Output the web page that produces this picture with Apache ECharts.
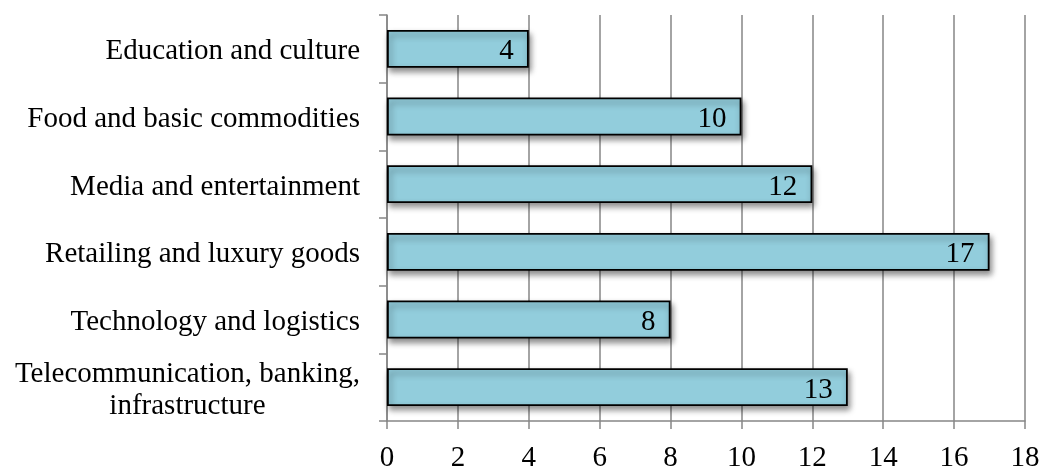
<!DOCTYPE html>
<html>
<head>
<meta charset="utf-8">
<script src="https://cdn.jsdelivr.net/npm/echarts@6/dist/echarts.min.js"></script>
<style>html,body{margin:0;padding:0;background:#fff;}#c{width:1046px;height:469px;}</style>
</head>
<body>
<div id="c"></div>
<script>
const categories = [
  "Education and culture",
  "Food and basic commodities",
  "Media and entertainment",
  "Retailing and luxury goods",
  "Technology and logistics",
  "Telecommunication, banking,\ninfrastructure"
];
const values = [4, 10, 12, 17, 8, 13];
const xTicks = [0, 2, 4, 6, 8, 10, 12, 14, 16, 18];

const chart = echarts.init(document.getElementById('c'), null, {renderer: 'canvas'});
const font = '"Liberation Serif", "Times New Roman", serif';
chart.setOption({
  animation: false,
  grid: {left: 387, right: 21, top: 15, bottom: 48, containLabel: false, outerBoundsMode: 'none'},
  xAxis: {
    type: 'value', min: xTicks[0], max: xTicks[xTicks.length - 1], interval: 2,
    axisLine: {show: true, lineStyle: {color: '#868686', width: 1.5}},
    axisTick: {show: true, length: 8, lineStyle: {color: '#868686', width: 1.5}},
    splitLine: {show: true, lineStyle: {color: '#868686', width: 1.5}},
    axisLabel: {color: '#000', fontFamily: font, fontSize: 29, margin: 23}
  },
  yAxis: {
    type: 'category', data: categories, inverse: true,
    axisLine: {show: true, lineStyle: {color: '#868686', width: 1.5}},
    axisTick: {show: true, length: 8, alignWithLabel: false, lineStyle: {color: '#868686', width: 1.5}},
    axisLabel: {
      color: '#000', fontFamily: font, fontSize: 29, margin: 27, lineHeight: 32,
      padding: [6, 0, 0, 0],
      formatter: function (v) {
        return v.split('\n').map(function (s) { return '{c|' + s + '}'; }).join('\n');
      },
      rich: {c: {align: 'center', fontFamily: font, fontSize: 29, color: '#000', lineHeight: 32}}
    }
  },
  series: [{
    type: 'bar', data: values, barWidth: '56%',
    itemStyle: {
      color: '#92CDDC', borderColor: '#000', borderWidth: 1.8,
      shadowColor: 'rgba(0,0,0,0.45)', shadowBlur: 6, shadowOffsetX: 2, shadowOffsetY: 4
    },
    label: {
      show: true, position: 'insideRight', distance: 15, offset: [0, 3],
      color: '#000', fontFamily: font, fontSize: 29
    }
  }]
});
</script>
</body>
</html>
